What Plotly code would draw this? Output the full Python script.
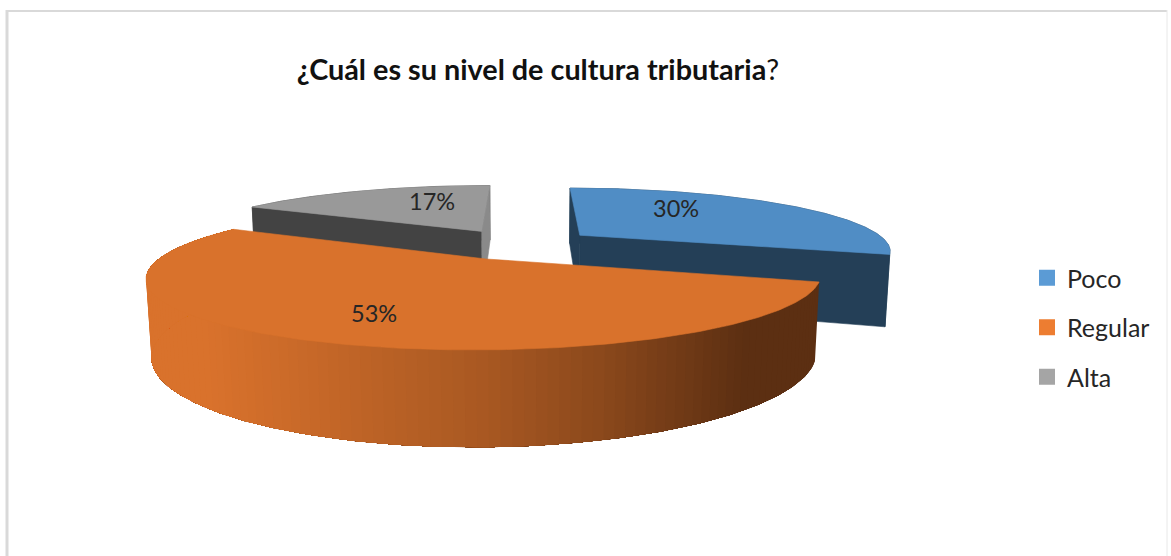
import numpy as np
import plotly.graph_objects as go

categories = ["Poco", "Regular", "Alta"]
values = [30, 53, 17]
legend_colors = ["#5B9BD5", "#ED7D31", "#A5A5A5"]
top_colors = ["#508DC5", "#D9722C", "#999999"]
wall_colors = ["#243F57", "#5C2F12", "#434343"]
label_xy = [(676, 208), (374, 313), (432, 201)]

# camera model of the 3-D pie, in pixel-based axis units
VX, YH, NADIR = 526.5, -23.0, 5800.0
C0, M, E = 0.003745, 0.000865, 1.16
EXPLODE, XC = 0.25, -0.0245
WALL = 0.261


def project(X, Z):
    ys = 1.0 / (C0 + M * np.asarray(Z))
    return VX + E * np.asarray(X) * ys, YH + ys


def drop(x, y):
    dy = WALL * (y - YH)
    return x + (VX - x) * dy / (NADIR - y), y + dy


def poly(fig, x, y, color, line=0.6):
    fig.add_trace(go.Scatter(
        x=np.append(x, x[0]), y=np.append(y, y[0]), mode="lines", fill="toself",
        fillcolor=color, line=dict(color=color, width=line),
        hoverinfo="skip", showlegend=False))


def lerp(c1, c2, t):
    a = [int(c1[i:i + 2], 16) for i in (1, 3, 5)]
    b = [int(c2[i:i + 2], 16) for i in (1, 3, 5)]
    return "rgb(%d,%d,%d)" % tuple(round(p + (q - p) * t) for p, q in zip(a, b))


fig = go.Figure()
total = sum(values)
edges = np.cumsum([0] + values) / total * 2 * np.pi

# back slices first, the large front slice last
for i in (2, 0, 1):
    a0, a1 = edges[i], edges[i + 1]
    mid = (a0 + a1) / 2
    cx = XC + EXPLODE * np.sin(mid)
    cz = EXPLODE * np.cos(mid)
    th = np.linspace(a0, a1, 241)
    ax, ay = project(cx + np.sin(th), cz + np.cos(th))
    px, py = project(np.array([cx]), np.array([cz]))
    bx, by = drop(ax, ay)
    pbx, pby = drop(px, py)

    if i == 1:
        # shaded outer wall: each band is painted up to the far left end and
        # then overpainted by the next, lighter one, so no seams appear
        n = 120
        idx = np.linspace(0, len(th) - 1, n + 1).astype(int)
        for j in range(n):
            s, t = idx[j], idx[j + 1] + 1
            mx = ax[s:t].mean()
            f = np.interp(mx, [205, 480, 600, 745], [0, 0.38, 0.62, 1])
            poly(fig, np.r_[ax[s:], bx[s:][::-1]], np.r_[ay[s:], by[s:][::-1]],
                 lerp(top_colors[1], wall_colors[1], f), 0)
    else:
        poly(fig, np.r_[ax, bx[::-1]], np.r_[ay, by[::-1]], wall_colors[i])
        # the two radial faces (the 0 degree face of the grey slice is light)
        first_col = wall_colors[i]
        last_col = "#8A8A8A" if i == 2 else wall_colors[i]
        poly(fig, np.r_[px, ax[0], bx[0], pbx], np.r_[py, ay[0], by[0], pby], first_col)
        poly(fig, np.r_[px, ax[-1], bx[-1], pbx], np.r_[py, ay[-1], by[-1], pby], last_col)

    poly(fig, np.r_[px, ax], np.r_[py, ay], top_colors[i])

for name, col in zip(categories, legend_colors):
    fig.add_trace(go.Scatter(
        x=[None], y=[None], mode="markers", name=name, legendgroup=name,
        marker=dict(symbol="square", size=16, color=col)))

annotations = [
    dict(x=x, y=y, xref="x", yref="y", text=f"{v}%", showarrow=False,
         font=dict(family="Lato", size=23.5, color="#262626"))
    for v, (x, y) in zip(values, label_xy)
]

fig.update_layout(
    width=1171, height=556, margin=dict(l=0, r=0, t=0, b=0),
    paper_bgcolor="white", plot_bgcolor="white",
    xaxis=dict(range=[0, 1171], visible=False, fixedrange=True),
    yaxis=dict(range=[556, 0], visible=False, fixedrange=True),
    title=dict(text="<b>¿Cuál es su nivel de cultura tributaria</b>?",
               x=538 / 1171, xanchor="center", y=1 - 70 / 556, yanchor="middle",
               font=dict(family="Lato", size=28.8, color="#111111")),
    legend=dict(x=1027 / 1171, xanchor="left", y=1 - 255 / 556, yanchor="top",
                tracegroupgap=14, font=dict(family="Lato", size=25, color="#262626"),
                bgcolor="rgba(0,0,0,0)"),
    annotations=annotations,
    shapes=[
        dict(type="line", x0=7, x1=7, y0=10, y1=556, line=dict(color="#D9D9D9", width=3)),
        dict(type="line", x0=6, x1=1167, y0=11, y1=11, line=dict(color="#D9D9D9", width=2)),
        dict(type="line", x0=1167, x1=1167, y0=10, y1=556, line=dict(color="#E8E8E8", width=1)),
    ],
)
fig.write_html("out.html", config={"displayModeBar": False},
               post_script="document.body.style.margin='0';")
